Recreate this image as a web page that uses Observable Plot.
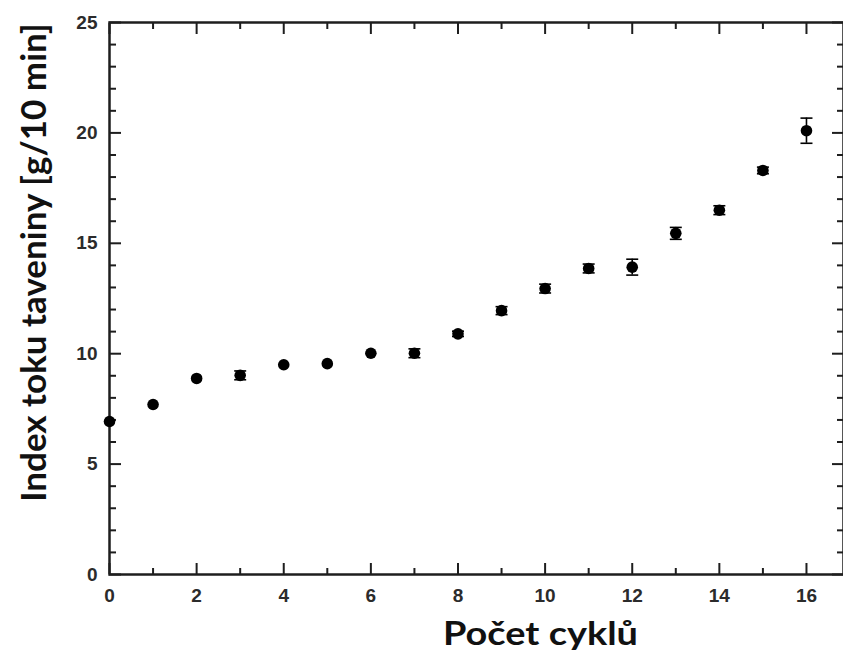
<!DOCTYPE html>
<html>
<head>
<meta charset="utf-8">
<script src="https://cdn.jsdelivr.net/npm/d3@7"></script>
<script src="https://cdn.jsdelivr.net/npm/@observablehq/plot@0.6"></script>
<style>
  html, body { margin: 0; padding: 0; background: #fff; }
  #chart { width: 843px; height: 659px; overflow: hidden; }
</style>
</head>
<body>
<div id="chart"></div>
<script>
const cycles = [0, 1, 2, 3, 4, 5, 6, 7, 8, 9, 10, 11, 12, 13, 14, 15, 16];
const mfi    = [6.93, 7.7, 8.88, 9.02, 9.5, 9.55, 10.02, 10.02, 10.9, 11.95, 12.95, 13.86, 13.92, 15.45, 16.5, 18.3, 20.1];
const mfiErr = [0, 0, 0, 0.2, 0, 0, 0, 0.2, 0.12, 0.18, 0.2, 0.2, 0.36, 0.27, 0.2, 0.15, 0.57];

const xMajor = [0, 2, 4, 6, 8, 10, 12, 14, 16];
const xMinor = [1, 3, 5, 7, 9, 11, 13, 15];
const yMajor = [0, 5, 10, 15, 20, 25];
const yMinor = [1, 2, 3, 4, 6, 7, 8, 9, 11, 12, 13, 14, 16, 17, 18, 19, 21, 22, 23, 24];

const xTitle = "Počet cyklů";
const yTitle = "Index toku taveniny [g/10 min]";

const data = cycles.map((c, i) => ({x: c, y: mfi[i], e: mfiErr[i]}));
const withErr = data.filter(d => d.e > 0);

const capSymbol = {
  draw(ctx, size) {
    const w = 6;
    ctx.moveTo(-w, 0);
    ctx.lineTo(w, 0);
  }
};

const ink = "#1e1e1e";
const tickFont = {fontSize: 19, fontWeight: "bold", fill: "#2b2b2b"};
const titleFont = {fontWeight: "bold", fontFamily: "Lato, 'Open Sans', sans-serif", fill: "#111", lineAnchor: "middle", textAnchor: "middle"};

const chart = Plot.plot({
  width: 843,
  height: 659,
  marginLeft: 109,
  marginRight: 0,
  marginTop: 22,
  marginBottom: 85,
  style: {fontFamily: "Liberation Sans, Arial, sans-serif", background: "#fff", color: ink},
  x: {domain: [0, 16.85]},
  y: {domain: [0, 25]},
  marks: [
    // bottom axis
    Plot.axisX({anchor: "bottom", ticks: xMajor, tickSize: 0, tickPadding: 14, tickFormat: d => d, label: null, ...tickFont}),
    Plot.axisX({anchor: "bottom", ticks: xMajor, tickSize: -11, text: null, label: null, strokeWidth: 2, stroke: ink}),
    Plot.axisX({anchor: "bottom", ticks: xMinor, tickSize: -6, text: null, label: null, strokeWidth: 2, stroke: ink}),
    // top axis
    Plot.axisX({anchor: "top", ticks: xMajor, tickSize: -11, text: null, label: null, strokeWidth: 2, stroke: ink}),
    Plot.axisX({anchor: "top", ticks: xMinor, tickSize: -6, text: null, label: null, strokeWidth: 2, stroke: ink}),
    // left axis
    Plot.axisY({anchor: "left", ticks: yMajor, tickSize: 0, tickPadding: 12, tickFormat: d => d, label: null, ...tickFont}),
    Plot.axisY({anchor: "left", ticks: yMajor, tickSize: -12, text: null, label: null, strokeWidth: 2, stroke: ink}),
    Plot.axisY({anchor: "left", ticks: yMinor, tickSize: -7, text: null, label: null, strokeWidth: 2, stroke: ink}),
    // right axis
    Plot.axisY({anchor: "right", ticks: yMajor, tickSize: -12, text: null, label: null, strokeWidth: 2, stroke: ink}),
    Plot.axisY({anchor: "right", ticks: yMinor, tickSize: -7, text: null, label: null, strokeWidth: 2, stroke: ink}),
    Plot.frame({stroke: ink, strokeWidth: 2.5}),
    // error bars
    Plot.ruleX(withErr, {x: "x", y1: d => d.y - d.e, y2: d => d.y + d.e, stroke: "#000", strokeWidth: 1.6}),
    Plot.dot(withErr, {x: "x", y: d => d.y - d.e, symbol: capSymbol, r: 6, stroke: "#000", strokeWidth: 1.6, fill: "none"}),
    Plot.dot(withErr, {x: "x", y: d => d.y + d.e, symbol: capSymbol, r: 6, stroke: "#000", strokeWidth: 1.6, fill: "none"}),
    // points
    Plot.dot(data, {x: "x", y: "y", r: 5.8, fill: "#000", stroke: "none"}),
    // axis titles
    Plot.text([xTitle], {frameAnchor: "bottom", dx: 64, dy: 60, fontSize: 33, ...titleFont}),
    Plot.text([yTitle], {frameAnchor: "left", dx: -75, dy: -36, rotate: -90, fontSize: 35, ...titleFont})
  ]
});

// the reference text is slightly stretched horizontally
d3.select(chart).selectAll("text")
  .filter(function() { return this.textContent === xTitle; })
  .attr("textLength", 195)
  .attr("lengthAdjust", "spacingAndGlyphs");

document.getElementById("chart").appendChild(chart);
</script>
</body>
</html>
